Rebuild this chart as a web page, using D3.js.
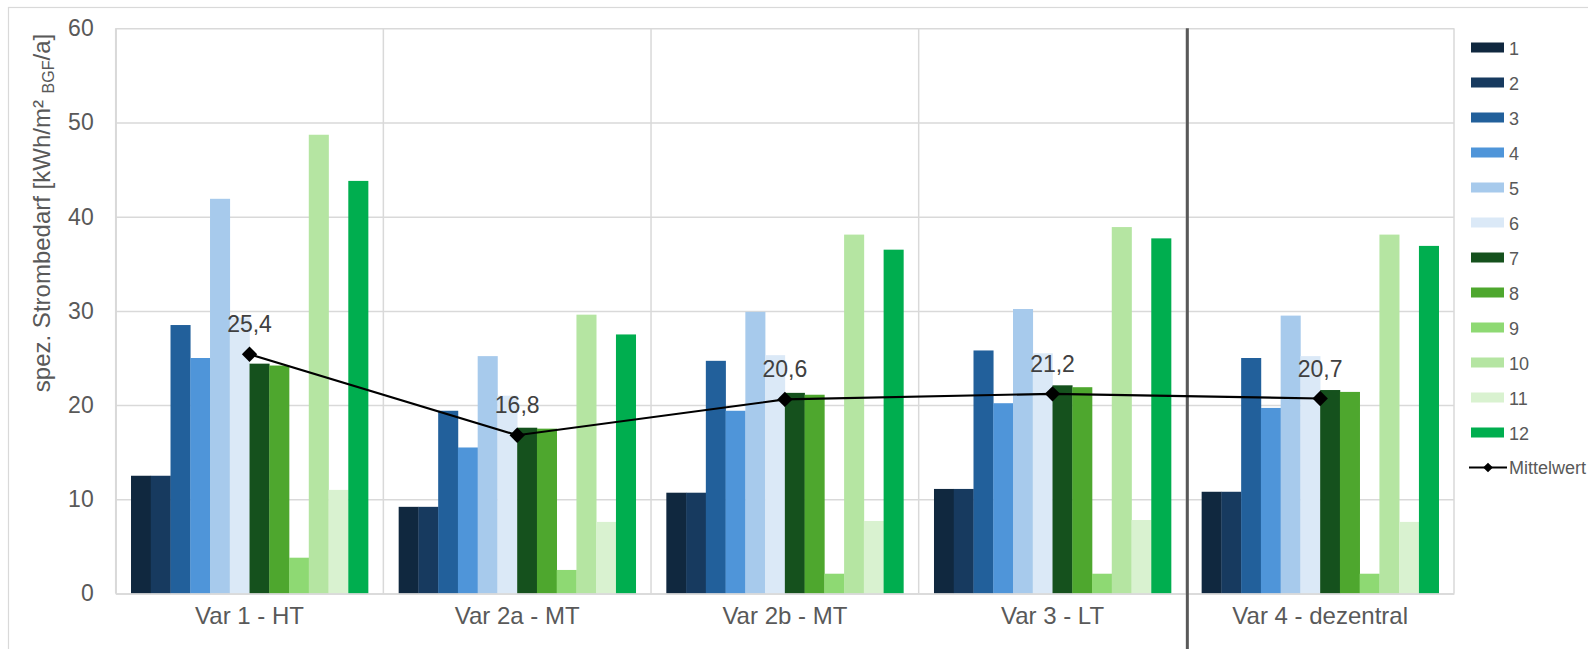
<!DOCTYPE html>
<html>
<head>
<meta charset="utf-8">
<script src="https://cdn.jsdelivr.net/npm/d3@7"></script>
<style>
  html, body { margin: 0; padding: 0; background: #fff; }
  svg { display: block; font-family: "Liberation Sans", Arial, sans-serif; }
</style>
</head>
<body>
<svg id="chart" width="1588" height="649"></svg>
<script>
// ---- data ----
const categories = ["Var 1 - HT", "Var 2a - MT", "Var 2b - MT", "Var 3 - LT", "Var 4 - dezentral"];
const seriesNames = ["1","2","3","4","5","6","7","8","9","10","11","12"];
const s1  = [12.5,  9.2, 10.7, 11.1, 10.8];
const s2  = [12.5,  9.2, 10.7, 11.1, 10.8];
const s3  = [28.5, 19.4, 24.7, 25.8, 25.0];
const s4  = [25.0, 15.5, 19.4, 20.2, 19.7];
const s5  = [41.9, 25.2, 29.9, 30.2, 29.5];
const s6  = [29.3, 21.0, 25.3, 25.5, 25.2];
const s7  = [24.4, 17.6, 21.3, 22.1, 21.6];
const s8  = [24.2, 17.5, 21.1, 21.9, 21.4];
const s9  = [ 3.8,  2.5,  2.1,  2.1,  2.1];
const s10 = [48.7, 29.6, 38.1, 38.9, 38.1];
const s11 = [11.0,  7.6,  7.7,  7.8,  7.6];
const s12 = [43.8, 27.5, 36.5, 37.7, 36.9];
const mittelwert = [25.4, 16.8, 20.6, 21.2, 20.7];
const yTicks = [0, 10, 20, 30, 40, 50, 60];
const meanName = "Mittelwert";

const seriesValues = [s1,s2,s3,s4,s5,s6,s7,s8,s9,s10,s11,s12];
const colors = ["#10283f","#173a5f","#22609b","#4f95d9","#a7caec","#dbe9f7",
                "#15511d","#4ea72e","#8ed973","#b5e5a2","#d9f2d0","#00ae4f"];

// ---- layout ----
const svg = d3.select("#chart");
const plot = {left: 115.7, right: 1454, top: 28.3, bottom: 593.5};

// outer chart border
svg.append("rect").attr("x", 8.5).attr("y", 7.5).attr("width", 1700).attr("height", 800)
  .attr("fill", "none").attr("stroke", "#d9d9d9").attr("stroke-width", 1.2);

const x0 = d3.scaleBand().domain(categories).range([plot.left, plot.right]).padding(0);
const cw = x0.bandwidth();
const gap = cw * 0.0572;
const x1 = d3.scaleBand().domain(seriesNames).range([gap, cw - gap]).padding(0);
const y = d3.scaleLinear().domain([0, 60]).range([plot.bottom, plot.top]);

// horizontal grid
const grid = svg.append("g").attr("transform", `translate(${plot.left},0)`)
  .call(d3.axisLeft(y).tickValues(yTicks).tickSize(-(plot.right - plot.left)).tickFormat(""));
grid.select(".domain").remove();
grid.selectAll(".tick line").attr("stroke", "#d9d9d9").attr("stroke-width", 1.5);

// vertical category grid lines
svg.append("g").selectAll("line").data(categories.concat(["__end"])).join("line")
  .attr("x1", d => d === "__end" ? plot.right : x0(d))
  .attr("x2", d => d === "__end" ? plot.right : x0(d))
  .attr("y1", plot.top).attr("y2", plot.bottom)
  .attr("stroke", "#d9d9d9").attr("stroke-width", 1.5);

// bars
const groups = svg.append("g").selectAll("g").data(categories).join("g")
  .attr("transform", d => `translate(${x0(d)},0)`);
groups.selectAll("rect").data((c, ci) => seriesNames.map((s, si) => ({s, si, v: seriesValues[si][ci]})))
  .join("rect")
  .attr("x", d => x1(d.s))
  .attr("width", x1.bandwidth() + 0.3)
  .attr("y", d => y(d.v))
  .attr("height", d => y(0) - y(d.v))
  .attr("fill", d => colors[d.si]);

// y axis
const yAxis = svg.append("g").attr("transform", `translate(${plot.left},0)`)
  .call(d3.axisLeft(y).tickValues(yTicks).tickSize(0).tickPadding(22));
yAxis.select(".domain").attr("stroke", "#d9d9d9").attr("stroke-width", 1.5);
yAxis.selectAll("text").attr("font-size", 23).attr("fill", "#595959")
  .attr("font-family", "Liberation Sans, Arial, sans-serif");

// x axis
const xAxis = svg.append("g").attr("transform", `translate(0,${plot.bottom})`)
  .call(d3.axisBottom(x0).tickSize(0).tickPadding(13));
xAxis.select(".domain").attr("stroke", "#d9d9d9").attr("stroke-width", 1.5);
xAxis.selectAll("text").attr("font-size", 24).attr("fill", "#595959")
  .attr("font-family", "Liberation Sans, Arial, sans-serif");

// separator line before last category
svg.append("line")
  .attr("x1", x0(categories[4]) + 1).attr("x2", x0(categories[4]) + 1)
  .attr("y1", plot.top).attr("y2", 649)
  .attr("stroke", "#595959").attr("stroke-width", 3);

// mean line
const line = d3.line().x((d, i) => x0(categories[i]) + cw / 2).y(d => y(d));
svg.append("path").datum(mittelwert).attr("d", line)
  .attr("fill", "none").attr("stroke", "#000").attr("stroke-width", 2.2);
const diamond = d3.symbol().type(d3.symbolDiamond2).size(150);
svg.append("g").selectAll("path").data(mittelwert).join("path")
  .attr("d", diamond)
  .attr("transform", (d, i) => `translate(${x0(categories[i]) + cw / 2},${y(d)})`)
  .attr("fill", "#000");

const fmt = d3.formatLocale({decimal: ",", thousands: ".", grouping: [3], currency: ["", "€"]}).format(".1f");
svg.append("g").selectAll("text").data(mittelwert).join("text")
  .attr("x", (d, i) => x0(categories[i]) + cw / 2)
  .attr("y", d => y(d) - 22)
  .attr("text-anchor", "middle")
  .attr("font-size", 23).attr("fill", "#404040")
  .text(d => fmt(d));

// y title
const yt = svg.append("text")
  .attr("transform", "translate(50,213) rotate(-90)")
  .attr("text-anchor", "middle")
  .attr("font-size", 24).attr("fill", "#595959");
yt.append("tspan").text("spez. Strombedarf [kWh/m² ");
yt.append("tspan").attr("font-size", 16).attr("dy", 4).text("BGF");
yt.append("tspan").attr("dy", -4).text("/a]");

// legend
const legend = svg.append("g");
const lrow = 35.0, ly0 = 47.5;
const items = legend.selectAll("g").data(seriesNames).join("g")
  .attr("transform", (d, i) => `translate(1471,${ly0 + i * lrow})`);
items.append("rect").attr("x", 0).attr("y", -5).attr("width", 33).attr("height", 10)
  .attr("fill", (d, i) => colors[i]);
items.append("text").attr("x", 38).attr("y", 7).attr("font-size", 18).attr("fill", "#595959")
  .text(d => d);
const mg = legend.append("g").attr("transform", `translate(1471,${ly0 + 12 * lrow})`);
mg.append("line").attr("x1", -2).attr("x2", 36).attr("y1", 0).attr("y2", 0)
  .attr("stroke", "#000").attr("stroke-width", 2);
mg.append("path").attr("d", d3.symbol().type(d3.symbolDiamond2).size(60)).attr("transform", "translate(17,0)");
mg.append("text").attr("x", 38).attr("y", 6).attr("font-size", 18).attr("fill", "#595959").text(meanName);
</script>
</body>
</html>
